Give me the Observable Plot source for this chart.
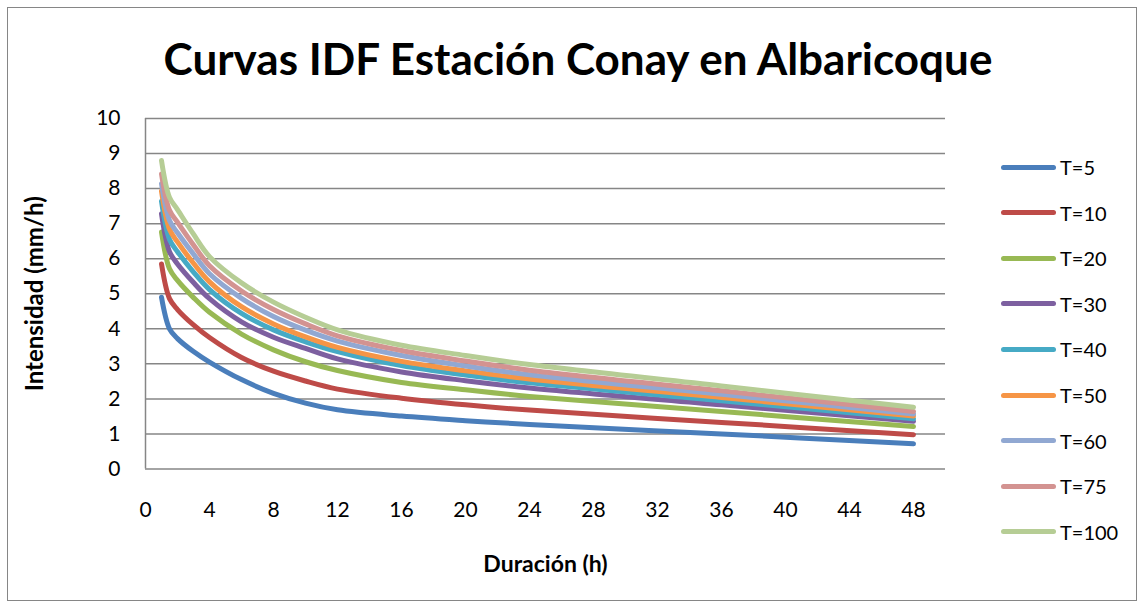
<!DOCTYPE html>
<html><head><meta charset="utf-8">
<script src="https://cdn.jsdelivr.net/npm/d3@7"></script>
<script src="https://cdn.jsdelivr.net/npm/@observablehq/plot@0.6"></script>
<style>
body{margin:0;background:#fff;font-family:Lato,"Open Sans",sans-serif;}
#chart{position:relative;width:1146px;height:609px;overflow:hidden;background:#fff;}
#frame{position:absolute;left:7px;top:7px;width:1130px;height:594px;border:1.5px solid #868686;box-sizing:border-box;}
#title{position:absolute;left:0;top:32px;width:1156px;text-align:center;font-weight:bold;font-size:44px;line-height:52px;color:#000;}
#plot{position:absolute;left:0;top:0;}
#legend{position:absolute;left:1001px;top:0;}
.item{position:absolute;left:0;height:24px;display:flex;align-items:center;white-space:nowrap;font-size:20px;color:#000;}
.sw{width:55px;height:5px;border-radius:3px;margin-right:4px;}
</style></head><body>
<div id="chart"><div id="frame"></div><div id="title"></div><div id="plot"></div><div id="legend"></div></div>
<script>
const durations = [1, 1.5, 2, 3, 4, 6, 8, 10, 12, 16, 20, 24, 36, 48];
const T5   = [4.90, 4.00, 3.72, 3.35, 3.05, 2.55, 2.16, 1.88, 1.69, 1.51, 1.38, 1.27, 1.00, 0.72];
const T10  = [5.85, 4.86, 4.55, 4.11, 3.75, 3.18, 2.79, 2.51, 2.28, 2.02, 1.83, 1.68, 1.33, 0.98];
const T20  = [6.76, 5.71, 5.38, 4.89, 4.47, 3.85, 3.40, 3.06, 2.81, 2.47, 2.26, 2.07, 1.64, 1.21];
const T30  = [7.28, 6.20, 5.85, 5.32, 4.86, 4.20, 3.76, 3.44, 3.14, 2.77, 2.52, 2.31, 1.83, 1.36];
const T40  = [7.64, 6.55, 6.20, 5.62, 5.12, 4.44, 3.97, 3.63, 3.35, 2.95, 2.68, 2.46, 1.95, 1.43];
const T50  = [7.93, 6.84, 6.48, 5.87, 5.34, 4.63, 4.14, 3.77, 3.47, 3.07, 2.80, 2.57, 2.04, 1.51];
const T60  = [8.14, 7.09, 6.74, 6.13, 5.57, 4.87, 4.35, 3.96, 3.65, 3.24, 2.94, 2.69, 2.13, 1.57];
const T75  = [8.42, 7.38, 7.04, 6.39, 5.80, 5.08, 4.55, 4.14, 3.80, 3.38, 3.08, 2.82, 2.23, 1.64];
const T100 = [8.80, 7.75, 7.40, 6.70, 6.06, 5.31, 4.76, 4.33, 3.97, 3.53, 3.24, 2.98, 2.37, 1.76];
const seriesNames = ["T=5","T=10","T=20","T=30","T=40","T=50","T=60","T=75","T=100"];
const seriesColors = ["#4A7EBB","#BE4B48","#98B954","#7D60A0","#46AAC5","#F69546","#91A8D2","#D39391","#B6CD95"];
const xTicks = [0,4,8,12,16,20,24,28,32,36,40,44,48];
const yTicks = [0,1,2,3,4,5,6,7,8,9,10];
const titleText = "Curvas IDF Estación Conay en Albaricoque";
const xTitle = "Duración (h)";
const yTitle = "Intensidad (mm/h)";

document.getElementById("title").textContent = titleText;
const allSeries = [T5,T10,T20,T30,T40,T50,T60,T75,T100];
const rows = allSeries.flatMap((vals,i) => durations.map((d,j) => ({d, v: vals[j], s: seriesNames[i]})));

const chart = Plot.plot({
  width: 1146, height: 609,
  marginLeft: 145, marginRight: 201, marginTop: 118, marginBottom: 140.5,
  x: {domain: [0, 50]},
  y: {domain: [0, 10]},
  color: {domain: seriesNames, range: seriesColors},
  style: {fontFamily: "Lato, 'Open Sans', sans-serif", fontSize: "21px", color: "#000", background: "transparent", overflow: "visible"},
  marks: [
    Plot.ruleY(yTicks, {stroke: "#868686", strokeWidth: 1.5}),
    Plot.ruleX([0], {stroke: "#868686", strokeWidth: 1.5}),
    Plot.axisX({ticks: xTicks, tickSize: 0, tickPadding: 33, label: null, fontSize: 21}),
    Plot.axisY({ticks: yTicks, tickSize: 0, tickPadding: 25, label: null, fontSize: 21}),
    Plot.line(rows, {x: "d", y: "v", z: "s", stroke: "s", strokeWidth: 5, curve: "catmull-rom", strokeLinecap: "round", strokeLinejoin: "round"}),
    Plot.text([xTitle], {text: d => d, frameAnchor: "bottom", dy: 96, fontWeight: "bold", fontSize: 23, lineAnchor: "middle"}),
    Plot.text([yTitle], {text: d => d, frameAnchor: "left", dx: -110, rotate: -90, textAnchor: "middle", fontWeight: "bold", fontSize: 24, lineAnchor: "middle"})
  ]
});
document.getElementById("plot").appendChild(chart);

const legend = document.getElementById("legend");
seriesNames.forEach((name, i) => {
  const it = document.createElement("div");
  it.className = "item";
  it.style.top = (167 + i * 45.6 - 12) + "px";
  const sw = document.createElement("div");
  sw.className = "sw";
  sw.style.background = seriesColors[i];
  const tx = document.createElement("span");
  tx.textContent = name;
  it.appendChild(sw); it.appendChild(tx);
  legend.appendChild(it);
});
</script>
</body></html>
